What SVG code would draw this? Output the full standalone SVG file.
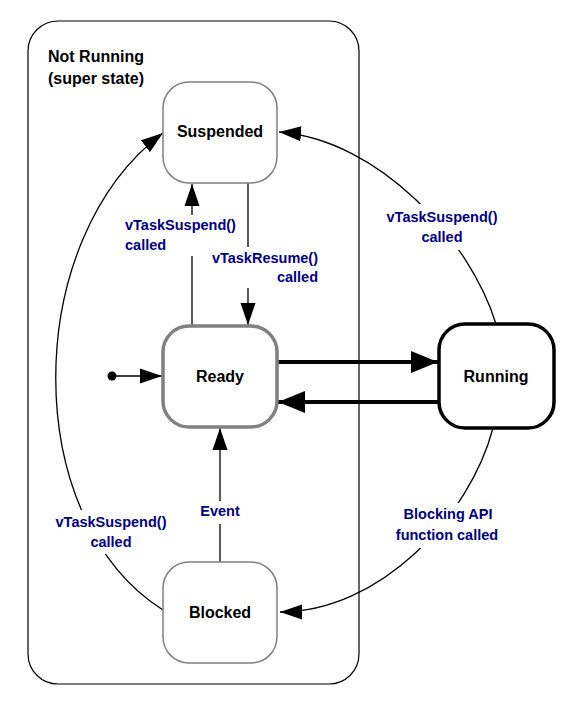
<svg xmlns="http://www.w3.org/2000/svg" width="583" height="707" viewBox="0 0 583 707">
<style>
.state{fill:#fff;stroke:#808080;stroke-width:1.5}
.name{font-family:"Liberation Sans",Arial,sans-serif;font-weight:bold;font-size:16px;fill:#000;text-anchor:middle}
.lbl{font-family:"Liberation Sans",Arial,sans-serif;font-weight:bold;font-size:14.5px;fill:#000080}
.c{fill:none;stroke:#000;stroke-width:1.3}
.t{fill:none;stroke:#000;stroke-width:4}
.bg{fill:#fff;stroke:none}
</style>
<defs>
<marker id="a" markerUnits="userSpaceOnUse" markerWidth="23" markerHeight="16" viewBox="0 0 23 16" refX="22" refY="8" orient="auto"><path d="M0,0.5 L22,8 L0,15.5 Z" fill="#000"/></marker>
<marker id="ab" markerUnits="userSpaceOnUse" markerWidth="28" markerHeight="24" viewBox="0 0 28 24" refX="27" refY="12" orient="auto"><path d="M0,1 L27,12 L0,23 Z" fill="#000"/></marker>
</defs>
<rect width="583" height="707" fill="#fff"/>
<g id="not-running">
<rect x="28" y="21" width="331" height="663" rx="30" fill="none" stroke="#000" stroke-width="1.2"/>
<text x="48" y="62" class="name" style="text-anchor:start">Not Running</text>
<text x="48" y="84" class="name" style="text-anchor:start">(super state)</text>
</g>
<g id="connectors">
<circle cx="112" cy="376" r="4.5" fill="#000"/>
<path class="c" d="M112,376 L162,376" marker-end="url(#a)"/>
<path class="c" d="M192,326 L192,256"/>
<path class="c" d="M192,215 L192,184" marker-end="url(#a)"/>
<path class="c" d="M248,183 L248,247"/>
<path class="c" d="M248,288 L248,325" marker-end="url(#a)"/>
<path class="c" d="M220,562 L220,524"/>
<path class="c" d="M220,501 L220,428" marker-end="url(#a)"/>
<path class="t" d="M278,362 L438,362" marker-end="url(#ab)"/>
<path class="t" d="M438,402 L278,402" marker-end="url(#ab)"/>
<path class="c" d="M496,324 C470,240 380,140 279,132" marker-end="url(#a)"/>
<path class="c" d="M493,428 C470,516 380,612 280,612" marker-end="url(#a)"/>
<path class="c" d="M163,610 C20,520 20,240 163,133" marker-end="url(#a)"/>
</g>
<g id="labels">
<rect class="bg" x="385" y="204" width="116" height="46"/>
<text class="lbl" x="442" y="222" text-anchor="middle">vTaskSuspend()</text>
<text class="lbl" x="442" y="242" text-anchor="middle">called</text>
<text class="lbl" x="125" y="230">vTaskSuspend()</text>
<text class="lbl" x="125" y="250">called</text>
<text class="lbl" x="318" y="263" text-anchor="end">vTaskResume()</text>
<text class="lbl" x="318" y="282" text-anchor="end">called</text>
<text class="lbl" x="220" y="516" text-anchor="middle">Event</text>
<rect class="bg" x="52" y="510" width="120" height="44"/>
<text class="lbl" x="111" y="527" text-anchor="middle">vTaskSuspend()</text>
<text class="lbl" x="111" y="547" text-anchor="middle">called</text>
<rect class="bg" x="390" y="503" width="114" height="45"/>
<text class="lbl" x="448" y="519" text-anchor="middle">Blocking API</text>
<text class="lbl" x="447" y="540" text-anchor="middle">function called</text>
</g>
<g id="suspended">
<rect class="state" x="163" y="82" width="114" height="101" rx="26"/>
<text class="name" x="220" y="137">Suspended</text>
</g>
<g id="ready">
<rect class="state" x="163" y="326" width="114" height="101" rx="26" style="stroke-width:3.5"/>
<text class="name" x="220" y="382">Ready</text>
</g>
<g id="running">
<rect class="state" x="439" y="324" width="115" height="104" rx="26" style="stroke:#000;stroke-width:3.5"/>
<text class="name" x="496" y="382">Running</text>
</g>
<g id="blocked">
<rect class="state" x="163" y="562" width="114" height="101" rx="26"/>
<text class="name" x="220" y="618">Blocked</text>
</g>
</svg>
